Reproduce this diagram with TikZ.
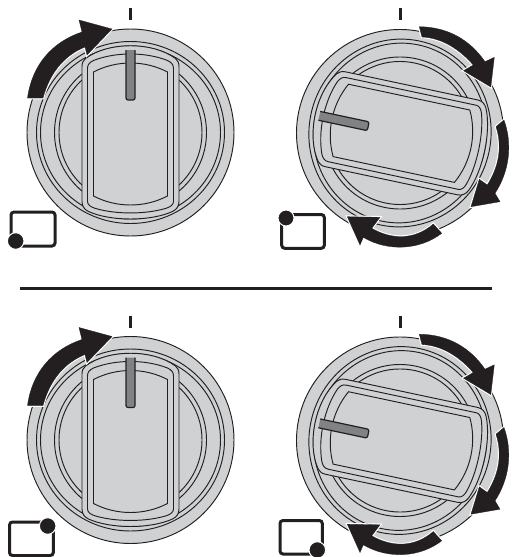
\documentclass[tikz,border=0pt]{standalone}
\definecolor{discgray}{RGB}{207, 209, 211}
\definecolor{pointergray}{RGB}{128, 130, 133}
\definecolor{inkblack}{RGB}{35, 31, 32}
\tikzset{
    ringline/.style={draw=inkblack, line width=0.95pt},
    turnarrow/.style={fill=inkblack, draw=inkblack, line width=0.3pt, preaction={draw=white, line width=2.6pt}},
    tickmark/.style={draw=inkblack, line width=3.6pt},
    iconbox/.style={draw=inkblack, line width=3pt, rounded corners=3pt},
    icondot/.style={fill=inkblack, draw=white, line width=1pt},
    pics/dial/.style={code={
        \draw[ringline, fill=discgray] (0,0) circle (103.5);
        \draw[ringline] (0,0) ellipse [x radius=94, y radius=91];
        \draw[ringline] (0,0) ellipse [x radius=90, y radius=86.5];
        \draw[ringline] (0,0) circle (76);
        \draw[ringline] (0,0) circle (71.5);
        % knob, outer edge
        \draw[ringline, fill=discgray] (-48.5,-66) .. controls (-48.5,-70) and (-47,-72) .. (-45,-74)
            .. controls (-22,-91) and (22,-91) .. (45,-74)
            .. controls (47,-72) and (48.5,-70) .. (48.5,-66) -- (48.5,69)
            .. controls (48.5,74) and (46,77) .. (42,79)
            .. controls (20,89) and (-20,89) .. (-42,79)
            .. controls (-46,77) and (-48.5,74) .. (-48.5,69) -- cycle;
        % knob, middle edge
        \draw[ringline] (-43,-64) .. controls (-43,-68) and (-41,-70) .. (-37,-72)
            .. controls (-15,-80.7) and (15,-80.7) .. (37,-72)
            .. controls (41,-70) and (43,-68) .. (43,-64) -- (43,69)
            .. controls (43,72) and (40,74.5) .. (35.5,75.8)
            .. controls (15,82) and (-15,82) .. (-35.5,75.8)
            .. controls (-40,74.5) and (-43,72) .. (-43,69) -- cycle;
        % knob, inner edge
        \draw[ringline] (-37,-60.5) .. controls (-14,-72.5) and (14,-72.5) .. (37,-60.5) -- (37,63.5)
            .. controls (14,75.5) and (-14,75.5) .. (-37,63.5) -- cycle;
        % pointer
        \draw[ringline, fill=pointergray, line width=1.2pt, rounded corners=2pt] (-4.5,-82.5) -- (-4.5,-32.5) -- (4.5,-32.5) -- (4.5,-82.5);
    }}
}
\begin{document}
\begin{tikzpicture}[x=1pt, y=-1pt]
    \useasboundingbox (0,0) rectangle (513,557);

    \foreach \rowshift in {0,307.5} {
        \begin{scope}[yshift=-\rowshift pt]
            \draw[tickmark] (130.5,8) -- (130.5,20);
            \draw[tickmark] (400.3,8) -- (400.3,20);
            \path (130.5,132.5) pic {dial};
            \path (400,133) pic[rotate=78] {dial};
            % left dial
            \draw[turnarrow] (27.5,98) .. controls (32,65) and (52,42) .. (82,32) -- (79,20) -- (112,29) -- (87,55) -- (85,47)
                .. controls (65,55) and (50,72) .. (43,98) -- cycle;
            % right dial
            \draw[turnarrow] (419.3,26.7) .. controls (448,27) and (470,40) .. (485,61.7) -- (494.3,57.3) -- (490.8,87) -- (463.5,70.7) -- (473.3,65)
                .. controls (460,50) and (443,38) .. (422,37) -- cycle;
            \draw[turnarrow] (504,120) .. controls (513,145) and (509,172) .. (495,193.3) -- (500,201.7) -- (471,206.7) -- (479.3,179.3) -- (487.3,185)
                .. controls (498,168) and (503,148) .. (496,126.7) -- cycle;
            \draw[turnarrow] (441.7,233.3) .. controls (420,250) and (388,252) .. (363.3,237.3) -- (360,245) -- (347.3,216.7) -- (380,217.3) -- (371.7,228.3)
                .. controls (392,240) and (415,240) .. (433.3,224) -- cycle;
        \end{scope}
    }

    \draw[draw=inkblack, line width=3pt] (20,288) -- (492,288);

    % position icons
    \draw[iconbox] (11,212) rectangle (55,246);
    \draw[icondot] (15.7,241) circle (8.3);
    \draw[iconbox] (281.7,214.5) rectangle (324.3,248.3);
    \draw[icondot] (286,218) circle (8);
    \draw[iconbox] (9.5,522) rectangle (53.3,555.5);
    \draw[icondot] (47.7,526) circle (8.3);
    \draw[iconbox] (280,520.5) rectangle (322.3,554);
    \draw[icondot] (317.3,550) circle (8.3);
\end{tikzpicture}
\end{document}
